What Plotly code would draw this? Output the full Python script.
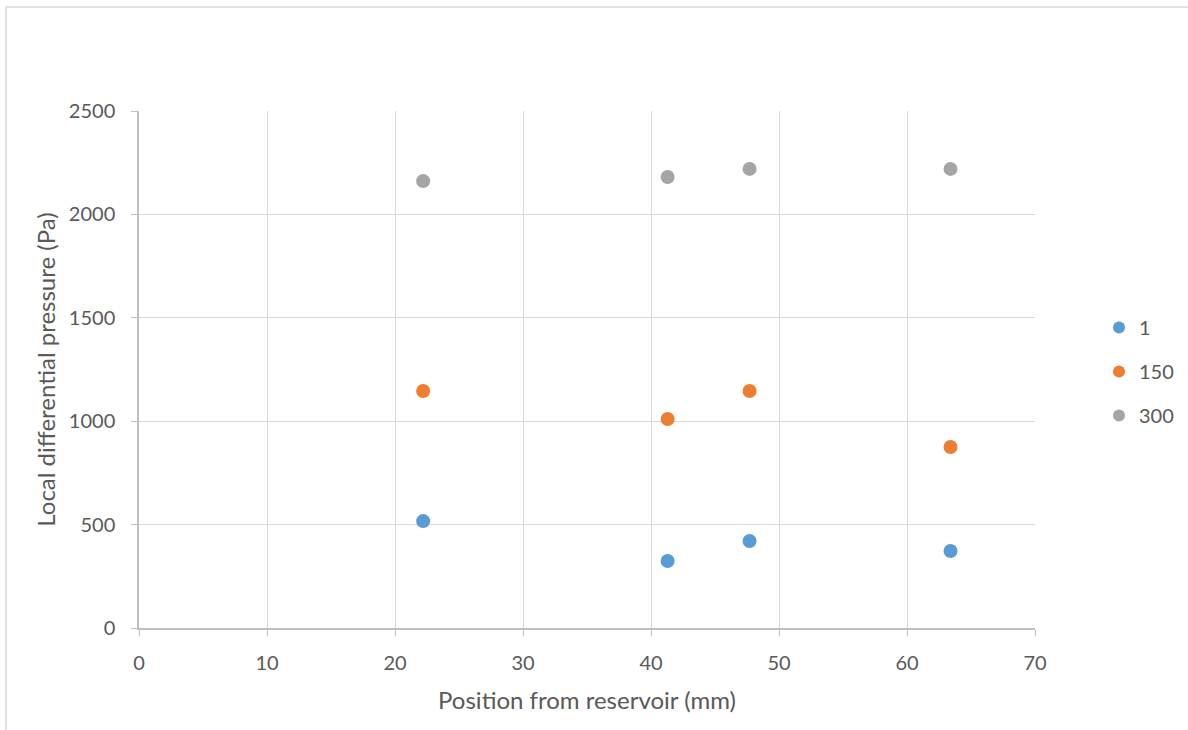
import plotly.graph_objects as go

positions = [22.2, 41.3, 47.7, 63.4]
series_names = ["1", "150", "300"]
series_1 = [517, 324, 421, 372]
series_150 = [1146, 1011, 1146, 875]
series_300 = [2161, 2181, 2220, 2220]
colors = ["#5B9BD5", "#ED7D31", "#A5A5A5"]

font_family = "Lato, 'Open Sans', sans-serif"
text_color = "#595959"

fig = go.Figure()
for name, vals, col in zip(series_names, [series_1, series_150, series_300], colors):
    fig.add_trace(go.Scatter(
        x=positions, y=vals, mode="markers", name=name, legendgroup=name,
        marker=dict(color=col, size=14, line=dict(width=0)),
    ))

L, R, T, B = 139, 153, 111, 102
W, H = 1188, 730
pw = W - L - R
ph = H - T - B

fig.update_layout(
    width=W, height=H,
    margin=dict(l=L, r=R, t=T, b=B, autoexpand=False),
    paper_bgcolor="white", plot_bgcolor="white",
    font=dict(family=font_family, size=20, color=text_color),
    showlegend=True,
    legend=dict(
        x=(1099 - L) / pw, y=(H - B - 308) / ph, xanchor="left", yanchor="top",
        font=dict(size=20, color=text_color),
        itemsizing="constant", traceorder="grouped", tracegroupgap=15,
        bgcolor="rgba(0,0,0,0)",
    ),
    xaxis=dict(
        range=[0, 70], dtick=10, tick0=0,
        showgrid=True, gridcolor="#D9D9D9", gridwidth=1.3,
        showline=True, linecolor="#BFBFBF", linewidth=1.5,
        ticks="outside", ticklen=6, tickcolor="#BFBFBF",
        ticklabelstandoff=10,
        zeroline=False,
        title=dict(text="Position from reservoir (mm)", font=dict(size=24, color=text_color), standoff=19),
        tickfont=dict(size=20, color=text_color),
    ),
    yaxis=dict(
        range=[0, 2500], dtick=500, tick0=0,
        showgrid=True, gridcolor="#D9D9D9", gridwidth=1.3,
        showline=True, linecolor="#BFBFBF", linewidth=1.5,
        ticks="outside", ticklen=6, tickcolor="#BFBFBF",
        ticklabelstandoff=12,
        zeroline=False,
        title=dict(text="Local differential pressure (Pa)", font=dict(size=24, color=text_color), standoff=6),
        tickfont=dict(size=20, color=text_color),
    ),
)

# outer chart border
fig.add_shape(
    type="rect", xref="paper", yref="paper", layer="below",
    x0=(6 - L) / pw, x1=(W + 20 - L) / pw,
    y0=(H - B - (H + 20)) / ph, y1=(H - B - 7) / ph,
    line=dict(color="#D9D9D9", width=1.5), fillcolor="rgba(0,0,0,0)",
)

fig.write_html(
    "out.html",
    config={"displayModeBar": False},
    post_script="document.body.style.margin='0';document.body.style.overflow='hidden';",
)
